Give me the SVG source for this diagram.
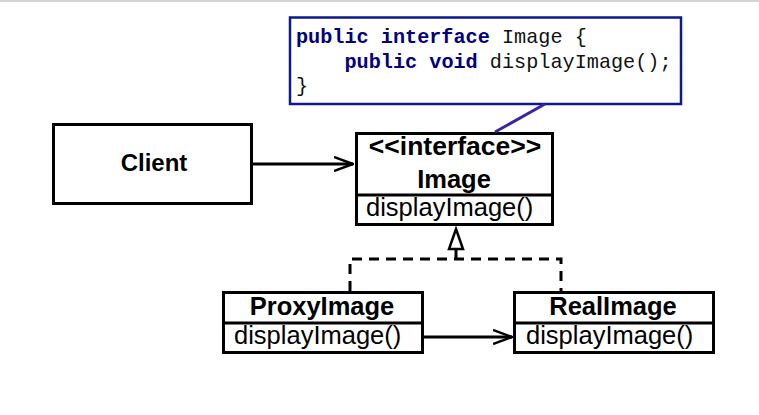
<svg xmlns="http://www.w3.org/2000/svg" width="759" height="415" viewBox="0 0 759 415">
<style>
.box{fill:#fff;stroke:#000;stroke-width:3}
.t{font-family:"Liberation Sans",Arial,sans-serif;fill:#000}
.b{font-weight:bold}
.m{font-size:25.5px}
.c{font-family:"Liberation Mono","Courier New",monospace;font-size:20.2px;fill:#111;white-space:pre}
.kw{font-weight:bold;fill:#000080}
.ln{stroke:#000;stroke-width:3;fill:none}
</style>
<defs>
<marker id="open" viewBox="0 0 20 16" refX="19" refY="8" markerWidth="20" markerHeight="16" markerUnits="userSpaceOnUse" orient="auto">
<path d="M0,1 L19,8 L0,15" fill="none" stroke="#000" stroke-width="2.5"/>
</marker>
</defs>
<rect width="759" height="415" fill="#fff"/>
<line x1="0" y1="1" x2="759" y2="1" stroke="#d4d4d4" stroke-width="2"/>
<g id="note">
<rect x="290" y="17.5" width="391" height="86.5" fill="#fff" stroke="#0d1a8e" stroke-width="2.5"/>
<text class="c" x="296" y="43"><tspan class="kw">public interface</tspan> Image {</text>
<text class="c" x="296" y="67.5">    <tspan class="kw">public void</tspan> displayImage();</text>
<text class="c" x="296" y="92" fill="#000080">}</text>
</g>
<g id="client">
<rect class="box" x="53.5" y="124.5" width="198" height="79"/>
<text class="t b" x="154" y="171" font-size="24" text-anchor="middle">Client</text>
</g>
<g id="image">
<rect class="box" x="356.5" y="133.5" width="196" height="91"/>
<line class="ln" x1="356.5" y1="195" x2="552.5" y2="195"/>
<text class="t b" x="455" y="155" font-size="26.5" text-anchor="middle">&lt;&lt;interface&gt;&gt;</text>
<text class="t b" x="454" y="188" font-size="25.5" text-anchor="middle">Image</text>
<text class="t m" x="366" y="216">displayImage()</text>
</g>
<g id="proxy">
<rect class="box" x="223.5" y="292.5" width="199" height="60"/>
<line class="ln" x1="223.5" y1="323" x2="422.5" y2="323"/>
<text class="t b" x="322" y="315" font-size="25.5" text-anchor="middle">ProxyImage</text>
<text class="t m" x="234" y="344">displayImage()</text>
</g>
<g id="real">
<rect class="box" x="514.5" y="292.5" width="199" height="60"/>
<line class="ln" x1="514.5" y1="323" x2="713.5" y2="323"/>
<text class="t b" x="613" y="315" font-size="25.5" text-anchor="middle">RealImage</text>
<text class="t m" x="526" y="344">displayImage()</text>
</g>
<g id="connectors">
<line x1="545" y1="104" x2="495" y2="132" stroke="#3b23a6" stroke-width="3"/>
<line class="ln" x1="252" y1="164" x2="353" y2="164" marker-end="url(#open)"/>
<line class="ln" x1="423" y1="337" x2="512" y2="337" marker-end="url(#open)"/>
<path class="ln" d="M350,291 V259 H561 V291" stroke-dasharray="10,7"/>
<line class="ln" x1="456" y1="259" x2="456" y2="249"/>
<path d="M456,229 L463,249 L449,249 Z" fill="#fff" stroke="#000" stroke-width="2.5" stroke-linejoin="miter"/>
</g>
</svg>
